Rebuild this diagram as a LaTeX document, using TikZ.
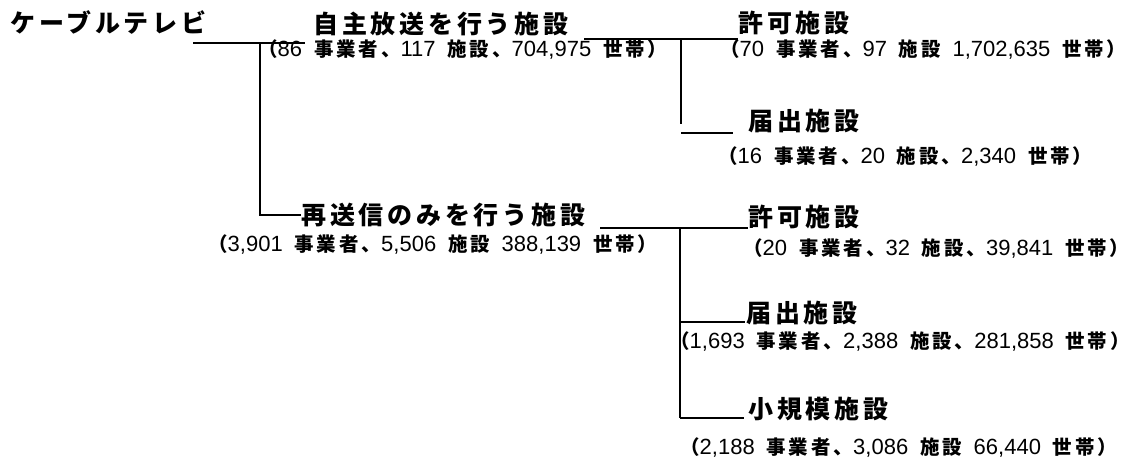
\documentclass[tikz,border=0pt]{standalone}
\usepackage{fontspec}
\usepackage{tikz}
\newfontfamily\headfont{Noto Sans CJK JP}[LetterSpace=15]
\newfontfamily\notefont{Noto Sans CJK JP}[LetterSpace=15,WordSpace=1.6]
\newfontfamily\digitfont{Liberation Sans}[Scale=1.13]
\newcommand\nb[1]{{\digitfont\mdseries #1}}

\begin{document}
\begin{tikzpicture}[x=0.75pt,y=-0.75pt,
  head/.style={anchor=west,inner sep=0pt,font=\headfont\fontsize{18.75pt}{21pt}\selectfont\bfseries},
  note/.style={anchor=west,inner sep=0pt,font=\notefont\fontsize{14.6pt}{17pt}\selectfont\bfseries},
  branch/.style={line width=1.2pt}]
\useasboundingbox (0,0) rectangle (1142,457);

% Text Node
\node [head] (cable) at (10,22) {ケーブルテレビ};
% Text Node
\node [head] (jishu) at (313,24) {自主放送を行う施設};
\node [note] (jishuN) at (258,50) {（\nb{86} 事業者、\nb{117} 施設、\nb{704,975} 世帯）};
% Text Node
\node [head] (kyoka1) at (738,23) {許可施設};
\node [note] (kyoka1N) at (720,50) {（\nb{70} 事業者、\nb{97} 施設 \nb{1,702,635} 世帯）};
% Text Node
\node [head] (todoke1) at (748,121) {届出施設};
\node [note] (todoke1N) at (718,157) {（\nb{16} 事業者、\nb{20} 施設、\nb{2,340} 世帯）};
% Text Node
\node [head] (saisou) at (301,215) {再送信のみを行う施設};
\node [note] (saisouN) at (208,245) {（\nb{3,901} 事業者、\nb{5,506} 施設 \nb{388,139} 世帯）};
% Text Node
\node [head] (kyoka2) at (748,217) {許可施設};
\node [note] (kyoka2N) at (743,249) {（\nb{20} 事業者、\nb{32} 施設、\nb{39,841} 世帯）};
% Text Node
\node [head] (todoke2) at (746,313) {届出施設};
\node [note] (todoke2N) at (670,342) {（\nb{1,693} 事業者、\nb{2,388} 施設、\nb{281,858} 世帯）};
% Text Node
\node [head] (shoki) at (748,409) {小規模施設};
\node [note] (shokiN) at (680,447) {（\nb{2,188} 事業者、\nb{3,086} 施設 \nb{66,440} 世帯）};

%Straight Lines
\coordinate (c1) at (193,43);
\coordinate (t1) at (260,43);
\draw [branch] (c1) -- ([xshift=-6]c1 -| jishu.west);
\draw [branch] (t1) |- (saisou.west);
%Straight Lines
\coordinate (j1) at (584,39);
\coordinate (t2) at (681,39);
\coordinate (d1) at (681,133);
\draw [branch] (j1) -- (j1 -| kyoka1.west);
\draw [branch] (t2) -- ([yshift=7]d1);
\draw [branch] (d1) -- ([xshift=-11]d1 -| todoke1.west);
%Straight Lines
\coordinate (s1) at (600,228);
\coordinate (t3) at (680,228);
\coordinate (d2) at (680,322);
\coordinate (d3) at (680,418);
\draw [branch] (s1) -- (s1 -| kyoka2.west);
\draw [branch] (t3) -- (d3);
\draw [branch] (d2) -- ([xshift=-1]d2 -| todoke2.west);
\draw [branch] (d3) -- ([xshift=-3]d3 -| shoki.west);

\end{tikzpicture}
\end{document}
